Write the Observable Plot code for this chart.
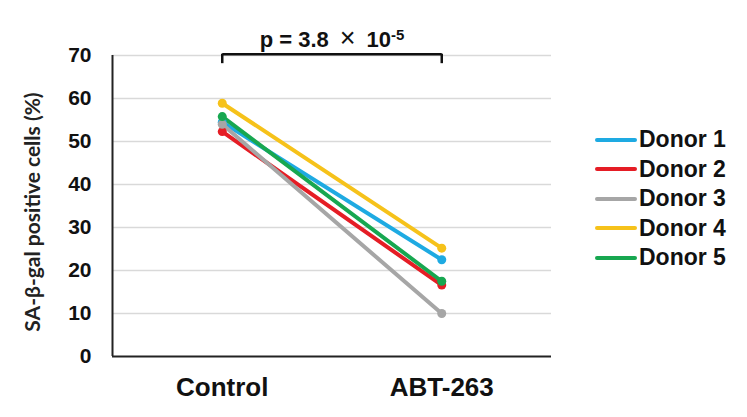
<!DOCTYPE html>
<html>
<head>
<meta charset="utf-8">
<script src="https://cdn.jsdelivr.net/npm/d3@7"></script>
<script src="https://cdn.jsdelivr.net/npm/@observablehq/plot@0.6"></script>
<style>
  body { margin: 0; background: #fff; }
  #wrap { position: relative; width: 747px; height: 417px; font-family: "Liberation Sans", Arial, sans-serif; }
  #legend { position: absolute; left: 595px; top: 125px; }
  .row { display: flex; align-items: center; height: 29.5px; font-weight: bold; font-size: 23px; color: #111; }
  .sw { width: 42px; height: 4px; border-radius: 2px; margin-right: 2px; }
</style>
</head>
<body>
<div id="wrap"></div>
<script>
const categories = ["Control", "ABT-263"];
const donors = ["Donor 1", "Donor 2", "Donor 3", "Donor 4", "Donor 5"];
const colors = ["#1EAAE2", "#E51D25", "#A6A6A6", "#F6C21A", "#17A750"];
const controlValues = [54.5, 52.3, 54.0, 58.9, 55.8];
const abtValues = [22.5, 16.6, 10.0, 25.2, 17.5];
const yTicks = [0, 10, 20, 30, 40, 50, 60, 70];
const yLabel = "SA-β-gal positive cells (%)";
const pParts = ["p = 3.8\u2002", "×", "\u200210", "-5"];

const rows = donors.flatMap((d, i) => [
  {donor: d, x: 0, y: controlValues[i]},
  {donor: d, x: 1, y: abtValues[i]}
]);

const chart = Plot.plot({
  width: 747,
  height: 417,
  marginLeft: 112,
  marginRight: 196,
  marginTop: 55,
  marginBottom: 61,
  style: {fontFamily: "'Liberation Sans', Arial, sans-serif", background: "#fff", color: "#111"},
  x: {domain: [-0.5, 1.5]},
  y: {domain: [0, 70]},
  color: {domain: donors, range: colors},
  marks: [
    Plot.ruleY(yTicks.filter(v => v > 0), {stroke: "#d9d9d9", strokeWidth: 1.5}),
    Plot.ruleY([0], {stroke: "#222", strokeWidth: 2}),
    Plot.ruleX([-0.5], {stroke: "#222", strokeWidth: 2}),
    Plot.axisY({ticks: yTicks, tickSize: 0, tickPadding: 21, label: null, fontSize: 21, fontWeight: "bold"}),
    Plot.axisX({ticks: [0, 1], tickFormat: i => categories[i], tickSize: 0, tickPadding: 21, label: null, fontSize: 26, fontWeight: "bold"}),
    Plot.text([yLabel], {frameAnchor: "left", textAnchor: "middle", rotate: -90, dx: -79, dy: 6, fontSize: 21, fontWeight: "bold", fontFamily: "Lato, sans-serif", fill: "#222"}),
    Plot.line(rows, {x: "x", y: "y", z: "donor", stroke: "donor", strokeWidth: 4}),
    Plot.dot(rows, {x: "x", y: "y", fill: "donor", r: 4.5}),
    Plot.link([0], {x1: () => 0, x2: () => 1, y1: () => 70.3, y2: () => 70.3, stroke: "#111", strokeWidth: 2.5}),
    Plot.ruleX([0, 1], {y1: 68.1, y2: 70.3, stroke: "#111", strokeWidth: 2.5}),
    Plot.text([pParts.join("")], {frameAnchor: "top", lineAnchor: "middle", dy: -16, fontSize: 22, fontWeight: "bold", fill: "#111", className: "pval"})
  ]
});

// rebuild p-value label with a thin × and superscript exponent
d3.select(chart).selectAll(".pval text").each(function() {
  const t = d3.select(this);
  t.text("");
  t.append("tspan").text(pParts[0]);
  t.append("tspan").attr("font-weight", "normal").attr("font-size", 27).text(pParts[1]);
  t.append("tspan").text(pParts[2]);
  t.append("tspan").attr("dy", "-0.45em").attr("font-size", 15).text(pParts[3]);
});

const wrap = document.getElementById("wrap");
wrap.appendChild(chart);

const legend = document.createElement("div");
legend.id = "legend";
donors.forEach((d, i) => {
  const row = document.createElement("div");
  row.className = "row";
  const sw = document.createElement("div");
  sw.className = "sw";
  sw.style.background = colors[i];
  row.appendChild(sw);
  row.appendChild(document.createTextNode(d));
  legend.appendChild(row);
});
wrap.appendChild(legend);
</script>
</body>
</html>
